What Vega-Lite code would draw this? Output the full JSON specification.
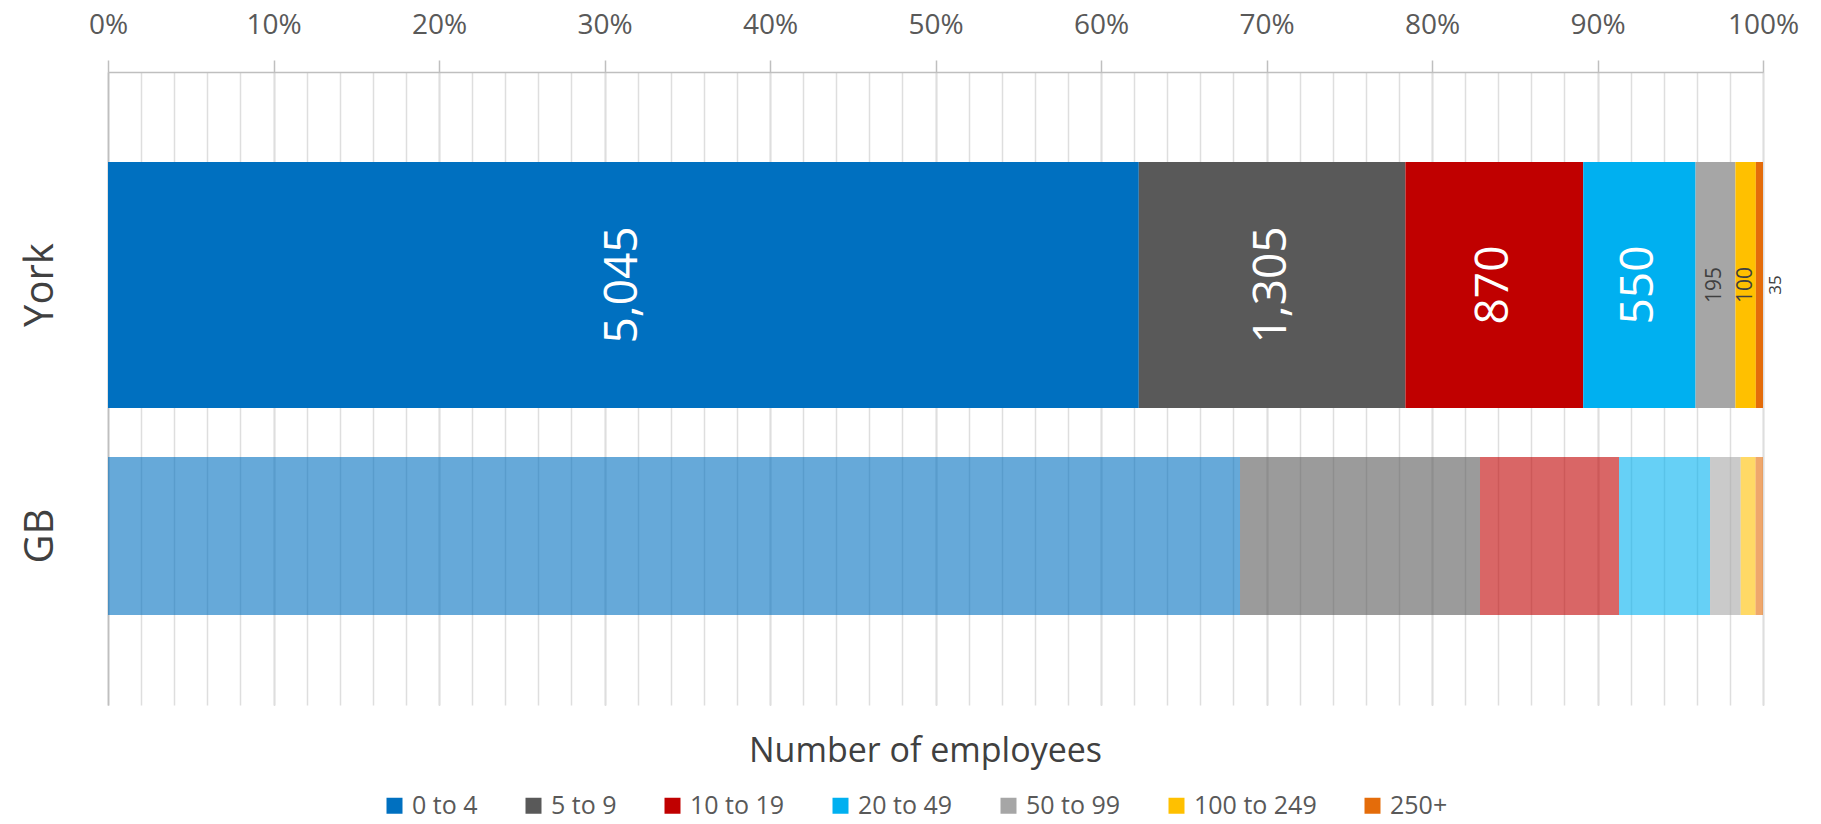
{
  "$schema": "https://vega.github.io/schema/vega-lite/v6.json",
  "autosize": "none",
  "width": 1655,
  "height": 633,
  "padding": {"left": 108, "top": 72, "right": 58, "bottom": 119},
  "background": "white",
  "config": {"font": "Open Sans", "view": {"stroke": null}, "legend": {"symbolOpacity": 1}},
  "data": {
    "values": [
      {"area": "York", "size": "0 to 4", "k": 1, "value": 5045},
      {"area": "York", "size": "5 to 9", "k": 2, "value": 1305},
      {"area": "York", "size": "10 to 19", "k": 3, "value": 870},
      {"area": "York", "size": "20 to 49", "k": 4, "value": 550},
      {"area": "York", "size": "50 to 99", "k": 5, "value": 195},
      {"area": "York", "size": "100 to 249", "k": 6, "value": 100},
      {"area": "York", "size": "250+", "k": 7, "value": 35},
      {"area": "GB", "size": "0 to 4", "k": 1, "value": 68.4},
      {"area": "GB", "size": "5 to 9", "k": 2, "value": 14.5},
      {"area": "GB", "size": "10 to 19", "k": 3, "value": 8.4},
      {"area": "GB", "size": "20 to 49", "k": 4, "value": 5.5},
      {"area": "GB", "size": "50 to 99", "k": 5, "value": 1.85},
      {"area": "GB", "size": "100 to 249", "k": 6, "value": 0.9},
      {"area": "GB", "size": "250+", "k": 7, "value": 0.45}
    ]
  },
  "encoding": {
    "y": {
      "field": "area",
      "type": "nominal",
      "sort": ["York", "GB"],
      "scale": {"domain": ["York", "GB"], "paddingInner": 0, "paddingOuter": 0.261, "align": 0.668},
      "axis": {
        "title": null,
        "orient": "left",
        "domain": true,
        "domainColor": "#bfbfbf",
        "domainWidth": 1.5,
        "ticks": false,
        "tickSize": 0,
        "labelAngle": 270,
        "labelAlign": "center",
        "labelBaseline": "middle",
        "labelFontSize": 40,
        "labelColor": "#404040",
        "labelPadding": 68,
        "grid": false
      }
    }
  },
  "layer": [
    {
      "transform": [{"filter": "datum.area === 'York'"}],
      "mark": {"type": "bar", "size": 246},
      "encoding": {
        "x": {
          "field": "value",
          "type": "quantitative",
          "stack": "normalize",
          "scale": {"domain": [0, 1], "nice": false},
          "axis": {
            "orient": "top",
            "values": [0, 0.1, 0.2, 0.3, 0.4, 0.5, 0.6, 0.7, 0.8, 0.9, 1],
            "format": ".0%",
            "tickSize": 12,
            "tickColor": "#bfbfbf",
            "tickWidth": 1.5,
            "domainColor": "#bfbfbf",
            "domainWidth": 1.5,
            "grid": true,
            "gridColor": "#c4c4c4",
            "gridWidth": 1.5,
            "labelFontSize": 28,
            "labelColor": "#595959",
            "labelPadding": 21,
            "labelFlush": false,
            "title": null
          }
        },
        "color": {
          "field": "size",
          "type": "nominal",
          "scale": {
            "domain": ["0 to 4", "5 to 9", "10 to 19", "20 to 49", "50 to 99", "100 to 249", "250+"],
            "range": ["#0070C0", "#595959", "#C00000", "#00B0F0", "#A6A6A6", "#FFC000", "#E46C0A"]
          },
          "legend": {
            "orient": "none",
            "legendX": 274,
            "legendY": 721,
            "direction": "horizontal",
            "title": null,
            "symbolType": "square",
            "symbolSize": 256,
            "symbolStrokeWidth": 0,
            "symbolOpacity": 1,
            "labelFontSize": 25,
            "labelColor": "#595959",
            "labelOffset": 5,
            "columnPadding": 43
          }
        },
        "order": {"field": "k", "type": "quantitative"}
      }
    },
    {
      "transform": [{"filter": "datum.area === 'GB'"}],
      "mark": {"type": "bar", "size": 158, "opacity": 0.6},
      "encoding": {
        "x": {
          "field": "value",
          "type": "quantitative",
          "stack": "normalize",
          "axis": {
            "orient": "bottom",
            "tickCount": 50,
            "labels": false,
            "ticks": false,
            "domain": false,
            "grid": true,
            "gridColor": "#dedede",
            "gridWidth": 1.5,
            "title": "Number of employees",
            "titleFontSize": 34,
            "titleFontWeight": "normal",
            "titleColor": "#404040",
            "titlePadding": 29,
            "titleX": 817,
            "titleAlign": "center"
          }
        },
        "color": {
          "field": "size",
          "type": "nominal",
          "legend": {
            "orient": "none",
            "legendX": 274,
            "legendY": 721,
            "direction": "horizontal",
            "title": null,
            "symbolType": "square",
            "symbolSize": 256,
            "symbolStrokeWidth": 0,
            "symbolOpacity": 1,
            "labelFontSize": 25,
            "labelColor": "#595959",
            "labelOffset": 5,
            "columnPadding": 43
          }
        },
        "order": {"field": "k", "type": "quantitative"}
      }
    },
    {
      "transform": [{"filter": "datum.area === 'York'"}],
      "mark": {"type": "text", "angle": 270, "baseline": "middle", "align": "center"},
      "encoding": {
        "x": {"field": "value", "type": "quantitative", "stack": "normalize", "bandPosition": 0.5, "axis": null},
        "detail": {"field": "size"},
        "order": {"field": "k", "type": "quantitative"},
        "text": {"condition": {"test": "datum.k === 7", "value": ""}, "field": "value", "type": "quantitative", "format": ","},
        "color": {"condition": {"test": "datum.k <= 4", "value": "#ffffff"}, "value": "#404040"},
        "size": {"condition": {"test": "datum.k <= 4", "value": 46}, "value": 21}
      }
    },
    {
      "transform": [{"filter": "datum.area === 'York'"}],
      "mark": {"type": "text", "angle": 270, "baseline": "middle", "align": "center", "dy": 13, "fontSize": 17, "color": "#404040"},
      "encoding": {
        "x": {"field": "value", "type": "quantitative", "stack": "normalize", "axis": null},
        "detail": {"field": "size"},
        "order": {"field": "k", "type": "quantitative"},
        "text": {"condition": {"test": "datum.k !== 7", "value": ""}, "field": "value", "type": "quantitative", "format": ","}
      }
    }
  ],
  "resolve": {"axis": {"x": "independent"}}
}
